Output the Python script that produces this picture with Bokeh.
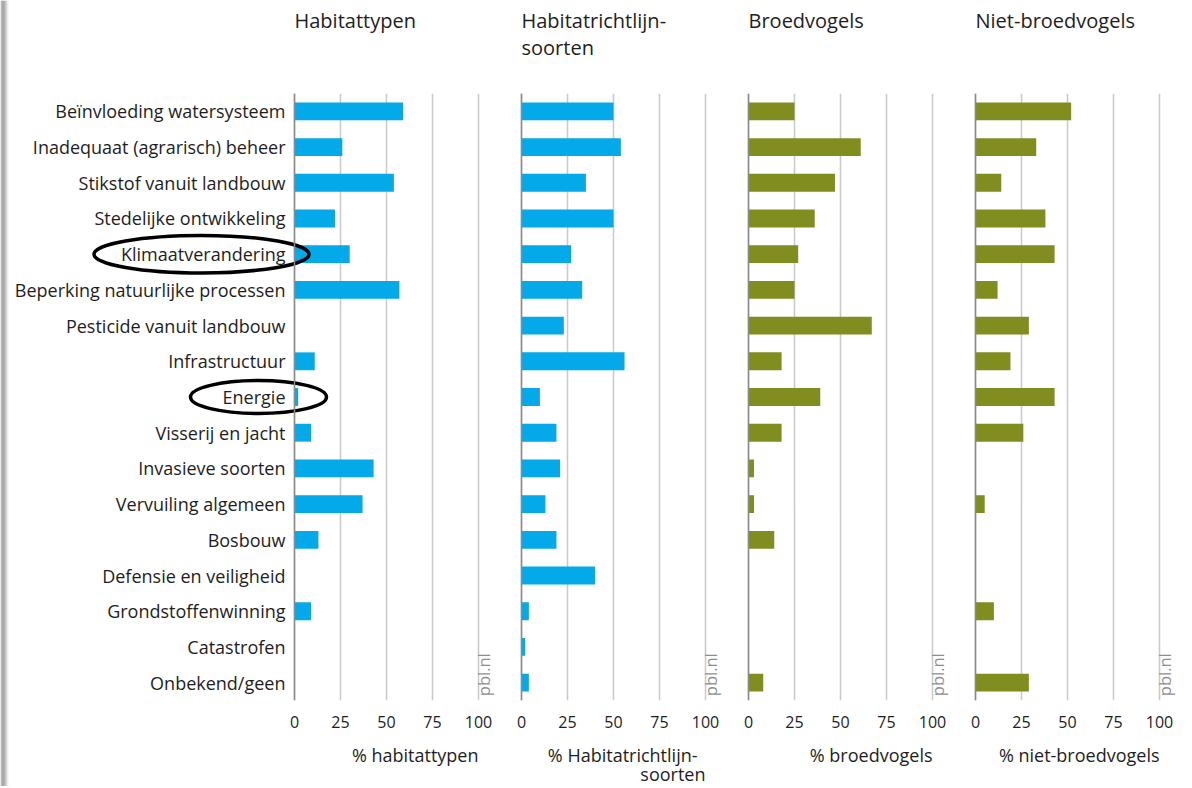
import math
from bokeh.plotting import figure
from bokeh.models import ColumnDataSource, FactorRange, Range1d, FixedTicker, Span
from bokeh.layouts import column, row
from bokeh.transform import dodge
from bokeh.core.properties import value
from bokeh.embed import file_html
from bokeh.resources import INLINE

# ---------------- data ----------------
CATEGORIES = [
    "Beïnvloeding watersysteem",
    "Inadequaat (agrarisch) beheer",
    "Stikstof vanuit landbouw",
    "Stedelijke ontwikkeling",
    "Klimaatverandering",
    "Beperking natuurlijke processen",
    "Pesticide vanuit landbouw",
    "Infrastructuur",
    "Energie",
    "Visserij en jacht",
    "Invasieve soorten",
    "Vervuiling algemeen",
    "Bosbouw",
    "Defensie en veiligheid",
    "Grondstoffenwinning",
    "Catastrofen",
    "Onbekend/geen",
]
HABITATTYPEN = [59, 26, 54, 22, 30, 57, 0, 11, 2, 9, 43, 37, 13, 0, 9, 0, 0]
HABITATRICHTLIJNSOORTEN = [50, 54, 35, 50, 27, 33, 23, 56, 10, 19, 21, 13, 19, 40, 4, 2, 4]
BROEDVOGELS = [25, 61, 47, 36, 27, 25, 67, 18, 39, 18, 3, 3, 14, 0, 0, 0, 8]
NIET_BROEDVOGELS = [52, 33, 14, 38, 43, 12, 29, 19, 43, 26, 0, 5, 0, 0, 10, 0, 29]

PANEL_TITLES = [["Habitattypen"], ["Habitatrichtlijn-", "soorten"], ["Broedvogels"], ["Niet-broedvogels"]]
AXIS_TITLES = [["% habitattypen"], ["% Habitatrichtlijn-", "soorten"], ["% broedvogels"], ["% niet-broedvogels"]]
TICKS = [0, 25, 50, 75, 100]
HIGHLIGHTED = ["Klimaatverandering", "Energie"]
SOURCE_LABEL = "pbl.nl"

# ---------------- style / layout ----------------
BLUE = "#03a9e8"
OLIVE = "#818d1f"
PANEL_COLORS = [BLUE, BLUE, OLIVE, OLIVE]
SERIES = [HABITATTYPEN, HABITATRICHTLIJNSOORTEN, BROEDVOGELS, NIET_BROEDVOGELS]
FONT = value("Open Sans")
TEXT_COLOR = "#1e1e1e"
STRIP_SHADES = ["#b0b0b0", "#999999", "#8a8a8a", "#8e8e8e", "#9e9e9e",
                "#b9b9b9", "#d5d5d5", "#ececec", "#f8f8f8"]

STRIP_W = len(STRIP_SHADES)            # grey page-edge shadow on the left
PAGE_L, PAGE_R = STRIP_W, 1190
ZERO0, STEP, PX = 294, 227, 1.84       # page x of first zero line, panel step, px per %
PAD = 8
HEADER_H, FRAME_H, AXIS_H, FOOTER_H = 93, 607, 38, 48
FRAME_TOP = HEADER_H
TOTAL_H = HEADER_H + FRAME_H + AXIS_H + FOOTER_H

zeros = [ZERO0 + STEP * i for i in range(4)]
edges = [PAGE_L] + [z + STEP - PAD for z in zeros[:3]] + [PAGE_R]

y_factors = list(reversed(CATEGORIES))


def bare(width, height, xr, yr):
    f = figure(width=width, height=height, x_range=xr, y_range=yr,
               output_backend="svg", toolbar_location=None, title=None,
               x_axis_location=None, y_axis_location=None,
               min_border_left=0, min_border_right=0, min_border_top=0, min_border_bottom=0)
    f.outline_line_color = None
    f.grid.grid_line_color = None
    f.border_fill_color = "white"
    return f


panels = []
for i in range(4):
    left, right, z = edges[i], edges[i + 1], zeros[i]
    p = figure(
        width=right - left, height=FRAME_H + AXIS_H,
        x_range=Range1d((left - z) / PX, (right - z) / PX),
        y_range=FactorRange(*y_factors, range_padding=0),
        output_backend="svg", toolbar_location=None, title=None,
        y_axis_location=None, min_border_left=0, min_border_right=0,
        min_border_top=0, min_border_bottom=AXIS_H,
    )
    p.outline_line_color = None
    p.background_fill_color = "white"
    p.border_fill_color = "white"
    p.ygrid.grid_line_color = None
    p.xgrid.ticker = FixedTicker(ticks=TICKS)
    p.xgrid.grid_line_color = "#cbcbcb"
    p.xgrid.grid_line_width = 1.6
    ax = p.xaxis[0]
    ax.ticker = FixedTicker(ticks=TICKS)
    ax.axis_line_color = None
    ax.major_tick_line_color = None
    ax.minor_tick_line_color = None
    ax.major_label_standoff = 9
    ax.major_label_text_font = "Open Sans"
    ax.major_label_text_font_size = "16px"
    ax.major_label_text_color = TEXT_COLOR

    src = ColumnDataSource(dict(cat=CATEGORIES, val=SERIES[i]))
    p.hbar(y="cat", left=0, right="val", height=0.5, source=src,
           fill_color=PANEL_COLORS[i], line_color=None)
    p.add_layout(Span(location=0, dimension="height", line_color="#8a8a8a", line_width=1.5))

    # source label, rotated, just right of the 100 line
    ps = ColumnDataSource(dict(cat=[CATEGORIES[-1]], x=[100 + 5 / PX], t=[SOURCE_LABEL]))
    p.text(x="x", y=dodge("cat", -0.38, range=p.y_range), text="t", source=ps,
           angle=math.pi / 2, text_align="left", text_baseline="middle",
           text_font=FONT, text_font_size="16.5px", text_color="#8f8f8f")
    panels.append(p)

# category labels + highlight ellipses on the first panel
p1 = panels[0]
lab = ColumnDataSource(dict(cat=CATEGORIES, x=[-9 / PX] * len(CATEGORIES)))
p1.text(x="x", y="cat", text="cat", source=lab, text_align="right", text_baseline="middle",
        text_font=FONT, text_font_size="18px", text_color=TEXT_COLOR)
ell = ColumnDataSource(dict(
    cat=HIGHLIGHTED,
    x=[(201 - ZERO0) / PX, (258 - ZERO0) / PX],
    w=[215 / PX, 136 / PX],
    h=[1.05, 0.92],
))
p1.ellipse(x="x", y=dodge("cat", 0.0, range=p1.y_range), width="w", height="h", source=ell,
           fill_color=None, line_color="black", line_width=3.5)

# header with panel titles (page coordinates)
header = bare(PAGE_R - PAGE_L, HEADER_H, Range1d(PAGE_L, PAGE_R), Range1d(FRAME_TOP, 0))
hx, hy, ht = [], [], []
for i, lines in enumerate(PANEL_TITLES):
    for j, t in enumerate(lines):
        hx.append(zeros[i]); hy.append(20 + 27 * j); ht.append(t)
header.text(x="x", y="y", text="t", source=ColumnDataSource(dict(x=hx, y=hy, t=ht)),
            text_align="left", text_baseline="middle", text_font=FONT,
            text_font_size="20px", text_color=TEXT_COLOR)

# footer with axis titles, right-aligned at the 100 line
foot_top = FRAME_TOP + FRAME_H + AXIS_H
footer = bare(PAGE_R - PAGE_L, FOOTER_H, Range1d(PAGE_L, PAGE_R),
              Range1d(foot_top + FOOTER_H, foot_top))
fx, fy, ft = [], [], []
for i, lines in enumerate(AXIS_TITLES):
    for j, t in enumerate(lines):
        inset = 8 if (len(lines) > 1 and j < len(lines) - 1) else 0
        fx.append(zeros[i] + 100 * PX - inset); fy.append(754 + 19 * j); ft.append(t)
footer.text(x="x", y="y", text="t", source=ColumnDataSource(dict(x=fx, y=fy, t=ft)),
            text_align="right", text_baseline="middle", text_font=FONT,
            text_font_size="18px", text_color=TEXT_COLOR)

# grey page-edge shadow at the far left
strip = bare(STRIP_W, TOTAL_H, Range1d(0, STRIP_W), Range1d(0, 1))
strip.quad(left=list(range(STRIP_W)), right=list(range(1, STRIP_W + 1)),
           bottom=0, top=1, fill_color=STRIP_SHADES, line_color=None)

layout = row(strip, column(header, row(*panels, spacing=0), footer, spacing=0), spacing=0)
open("out.html", "w").write(file_html(layout, INLINE))
